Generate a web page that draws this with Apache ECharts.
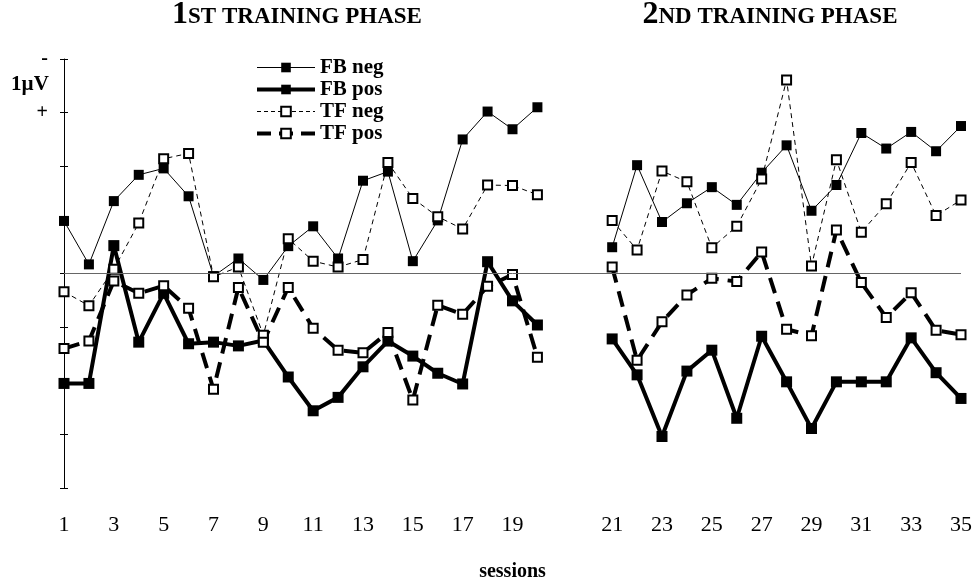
<!DOCTYPE html>
<html>
<head>
<meta charset="utf-8">
<script src="https://cdn.jsdelivr.net/npm/echarts@6/dist/echarts.min.js"></script>
<style>
  html, body { margin: 0; padding: 0; background: #fff; }
  #chart { width: 975px; height: 587px; }
</style>
</head>
<body>
<div id="chart"></div>
<script>
// sessions of both phases, with two empty slots between them
const phase1Sessions = ['1','2','3','4','5','6','7','8','9','10','11','12','13','14','15','16','17','18','19','20']
const gapSlots = ['', '']
const phase2Sessions = ['21','22','23','24','25','26','27','28','29','30','31','32','33','34','35']

// amplitudes in µV (negative is drawn upward)
const fbNeg1 = [-0.98,-0.17,-1.35,-1.84,-1.96,-1.44,0.05,-0.28,0.12,-0.51,-0.88,-0.28,-1.73,-1.90,-0.23,-0.99,-2.50,-3.02,-2.69,-3.10]
const fbNeg2 = [-0.49,-2.02,-0.96,-1.31,-1.61,-1.28,-1.88,-2.39,-1.17,-1.65,-2.62,-2.33,-2.64,-2.28,-2.75]
const fbPos1 = [2.05,2.05,-0.52,1.28,0.37,1.31,1.28,1.35,1.25,1.93,2.56,2.31,1.74,1.26,1.54,1.86,2.06,-0.22,0.51,0.96]
const fbPos2 = [1.22,1.89,3.04,1.82,1.43,2.70,1.17,2.02,2.89,2.02,2.02,2.02,1.20,1.85,2.33]
const tfNeg1 = [0.34,0.60,-0.08,-0.94,-2.14,-2.24,0.06,-0.12,1.15,-0.65,-0.23,-0.12,-0.26,-2.07,-1.40,-1.06,-0.83,-1.65,-1.64,-1.47]
const tfNeg2 = [-0.99,-0.44,-1.91,-1.71,-0.48,-0.88,-1.76,-3.61,-0.14,-2.12,-0.77,-1.30,-2.07,-1.08,-1.37]
const tfPos1 = [1.40,1.26,0.14,0.37,0.23,0.65,2.16,0.26,1.28,0.26,1.02,1.43,1.48,1.10,2.36,0.59,0.76,0.24,0.02,1.56]
const tfPos2 = [-0.12,1.62,0.90,0.40,0.09,0.15,-0.40,1.04,1.16,-0.81,0.17,0.82,0.36,1.06,1.14]

const categories = phase1Sessions.concat(gapSlots, phase2Sessions)
const join = (a, b) => a.concat(gapSlots.map(() => null), b)

const serif = 'Liberation Serif'

const chart = echarts.init(document.getElementById('chart'))

function makeSeries(name, data, width, dashed, filled, size) {
  return {
    name: name,
    type: 'line',
    data: data,
    connectNulls: false,
    symbol: 'rect',
    symbolSize: size,
    showAllSymbol: true,
    lineStyle: { color: '#000', width: width, type: dashed },
    itemStyle: {
      color: filled ? '#000' : '#fff',
      borderColor: '#000',
      borderWidth: filled ? 0 : 2
    },
    emphasis: { disabled: true },
    animation: false
  }
}

const series = [
  makeSeries('FB neg', join(fbNeg1, fbNeg2), 1, 'solid', true, 10),
  makeSeries('FB pos', join(fbPos1, fbPos2), 4, 'solid', true, 11),
  makeSeries('TF neg', join(tfNeg1, tfNeg2), 1, [5, 4], false, 9),
  makeSeries('TF pos', join(tfPos1, tfPos2), 4, [16, 9], false, 9)
]

// zero line across both phases
series[0].markLine = {
  silent: true,
  symbol: 'none',
  label: { show: false },
  lineStyle: { color: '#666', width: 1, type: 'solid' },
  data: [{ yAxis: 0 }],
  animation: false
}

const titleRich = {
  b: { fontFamily: serif, fontWeight: 'bold', fontSize: 32, fill: '#000' },
  s: { fontFamily: serif, fontWeight: 'bold', fontSize: 23, fill: '#000', padding: [5, 0, 0, 0] }
}

chart.setOption({
  backgroundColor: '#fff',
  animation: false,
  grid: { left: 64, right: 12, top: 59, bottom: 96 },
  legend: {
    orient: 'vertical',
    left: 250,
    top: 52,
    itemWidth: 58,
    itemHeight: 12,
    itemGap: 1,
    textStyle: { fontFamily: serif, fontWeight: 'bold', fontSize: 21, lineHeight: 21, color: '#000' },
    data: [
      { name: 'FB neg', lineStyle: { width: 1 } },
      { name: 'FB pos', lineStyle: { width: 4 } },
      { name: 'TF neg', lineStyle: { width: 1, type: [4, 3] } },
      { name: 'TF pos', lineStyle: { width: 4, type: [14, 8] } }
    ]
  },
  xAxis: {
    type: 'category',
    data: categories,
    boundaryGap: false,
    axisLine: { show: false },
    axisTick: { show: false },
    axisLabel: {
      interval: (index, value) => value !== '' && Number(value) % 2 === 1,
      margin: 26,
      fontFamily: serif,
      fontSize: 22,
      color: '#000'
    },
    name: 'sessions',
    nameLocation: 'middle',
    nameGap: 74,
    nameTextStyle: { fontFamily: serif, fontWeight: 'bold', fontSize: 20, color: '#000' }
  },
  yAxis: [
    {
      type: 'value',
      inverse: true,
      min: -4,
      max: 4,
      interval: 1,
      splitLine: { show: false },
      axisLine: { show: true, lineStyle: { color: '#000', width: 1 } },
      axisTick: { show: true, length: 4, lineStyle: { color: '#000' } },
      axisLabel: {
        margin: 16,
        fontFamily: serif,
        fontWeight: 'bold',
        fontSize: 20,
        color: '#000',
        formatter: (v) => (v === -4 ? '-' : v === -3 ? '+' : '')
      }
    },
    {
      type: 'value',
      position: 'left',
      inverse: true,
      min: -4,
      max: 4,
      interval: 1,
      splitLine: { show: false },
      axisLine: { show: false },
      axisTick: { show: true, inside: true, length: 4, lineStyle: { color: '#000' } },
      axisLabel: { show: false }
    }
  ],
  graphic: [
    {
      type: 'text',
      x: 30, y: 85,
      style: {
        text: '1µV', fill: '#000', align: 'center', verticalAlign: 'middle',
        font: 'bold 21px "Liberation Serif"'
      }
    },
    {
      type: 'text',
      x: 297, y: 15,
      style: { text: '{b|1}{s|ST TRAINING PHASE}', align: 'center', verticalAlign: 'middle', rich: titleRich }
    },
    {
      type: 'text',
      x: 770, y: 15,
      style: { text: '{b|2}{s|ND TRAINING PHASE}', align: 'center', verticalAlign: 'middle', rich: titleRich }
    }
  ],
  series: series
})
</script>
</body>
</html>
